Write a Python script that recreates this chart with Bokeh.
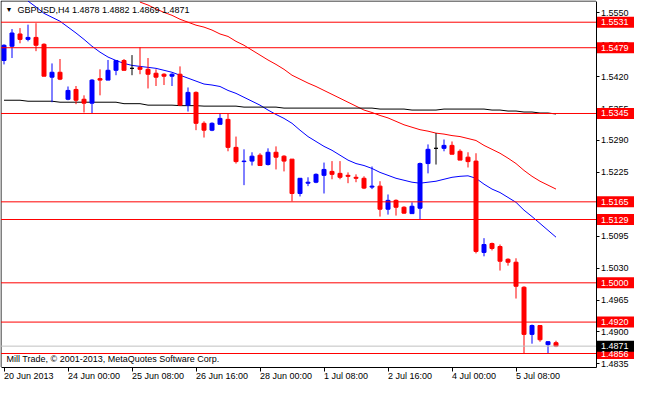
from bokeh.plotting import figure
from bokeh.models import Range1d, FixedTicker, Label, ColumnDataSource, PrintfTickFormatter
from bokeh.core.properties import value
from bokeh.embed import file_html
from bokeh.resources import INLINE

FONT = "Liberation Sans"

symbol = "GBPUSD,H4"
watermark = "Mill Trade, \u00a9 2001-2013, MetaQuotes Software Corp."
time_label_bars = [0, 8, 16, 24, 32, 40, 48, 56, 64]
time_labels = ["20 Jun 2013", "24 Jun 00:00", "25 Jun 08:00", "26 Jun 16:00", "28 Jun 00:00",
               "1 Jul 08:00", "2 Jul 16:00", "4 Jul 00:00", "5 Jul 08:00"]
price_ticks = [1.4835, 1.4900, 1.4965, 1.5030, 1.5095, 1.5160, 1.5225, 1.5290, 1.5355,
               1.5420, 1.5485, 1.5550]

opens = [1.5453, 1.5482, 1.5507, 1.5496, 1.5500, 1.5486, 1.5419, 1.5429, 1.5374, 1.5394,
         1.5374, 1.5366, 1.5416, 1.5413, 1.5433, 1.5453, 1.5437, 1.5439, 1.5435, 1.5427,
         1.5425, 1.5421, 1.5425, 1.5362, 1.5388, 1.5325, 1.5311, 1.5323, 1.5333, 1.5276,
         1.5247, 1.5248, 1.5260, 1.5241, 1.5266, 1.5258, 1.5252, 1.5182, 1.5203, 1.5205,
         1.5219, 1.5227, 1.5223, 1.5219, 1.5215, 1.5213, 1.5195, 1.5197, 1.5150, 1.5168,
         1.5154, 1.5141, 1.5152, 1.5243, 1.5274, 1.5274, 1.5280, 1.5268, 1.5256, 1.5248,
         1.5062, 1.5080, 1.5074, 1.5048, 1.5042, 1.4991, 1.4895, 1.4913, 1.4874, 1.4878]
highs = [1.5486, 1.5517, 1.5519, 1.5526, 1.5529, 1.5488, 1.5447, 1.5456, 1.5400, 1.5401,
         1.5382, 1.5415, 1.5435, 1.5454, 1.5454, 1.5456, 1.5464, 1.5480, 1.5458, 1.5435,
         1.5427, 1.5427, 1.5441, 1.5398, 1.5390, 1.5329, 1.5327, 1.5346, 1.5345, 1.5298,
         1.5272, 1.5266, 1.5264, 1.5274, 1.5278, 1.5260, 1.5252, 1.5213, 1.5215, 1.5223,
         1.5245, 1.5248, 1.5248, 1.5225, 1.5221, 1.5217, 1.5237, 1.5207, 1.5180, 1.5170,
         1.5156, 1.5164, 1.5245, 1.5282, 1.5305, 1.5292, 1.5288, 1.5272, 1.5266, 1.5264,
         1.5091, 1.5082, 1.5078, 1.5050, 1.5050, 1.4993, 1.4915, 1.4913, 1.4881, 1.4882]
lows = [1.5445, 1.5458, 1.5488, 1.5492, 1.5472, 1.5421, 1.5368, 1.5413, 1.5372, 1.5364,
        1.5347, 1.5345, 1.5382, 1.5413, 1.5423, 1.5433, 1.5423, 1.5425, 1.5396, 1.5401,
        1.5403, 1.5401, 1.5362, 1.5349, 1.5311, 1.5296, 1.5309, 1.5323, 1.5268, 1.5243,
        1.5199, 1.5239, 1.5239, 1.5239, 1.5231, 1.5227, 1.5166, 1.5176, 1.5197, 1.5203,
        1.5182, 1.5211, 1.5211, 1.5203, 1.5205, 1.5191, 1.5191, 1.5135, 1.5139, 1.5137,
        1.5141, 1.5141, 1.5129, 1.5223, 1.5241, 1.5268, 1.5262, 1.5250, 1.5235, 1.5060,
        1.5054, 1.5066, 1.5025, 1.5035, 1.4968, 1.4856, 1.4876, 1.4880, 1.4856, 1.4869]
closes = [1.5484, 1.5509, 1.5496, 1.5500, 1.5484, 1.5421, 1.5429, 1.5415, 1.5392, 1.5372,
          1.5366, 1.5413, 1.5413, 1.5433, 1.5453, 1.5433, 1.5437, 1.5435, 1.5425, 1.5419,
          1.5421, 1.5425, 1.5362, 1.5388, 1.5325, 1.5311, 1.5325, 1.5335, 1.5276, 1.5247,
          1.5248, 1.5258, 1.5239, 1.5266, 1.5256, 1.5248, 1.5182, 1.5213, 1.5205, 1.5221,
          1.5231, 1.5221, 1.5215, 1.5217, 1.5213, 1.5193, 1.5197, 1.5150, 1.5168, 1.5154,
          1.5142, 1.5156, 1.5243, 1.5272, 1.5274, 1.5280, 1.5262, 1.5250, 1.5247, 1.5064,
          1.5078, 1.5070, 1.5044, 1.5042, 1.4993, 1.4895, 1.4913, 1.4884, 1.4880, 1.4871]

# blue moving average, from bar 3
ma_fast_first = 3
ma_fast = [1.5574, 1.5562, 1.5549, 1.5541, 1.5533, 1.5521, 1.5509, 1.5496, 1.5482, 1.5470,
           1.5460, 1.5453, 1.5447, 1.5443, 1.5441, 1.5439, 1.5437, 1.5433, 1.5429, 1.5423,
           1.5417, 1.5411, 1.5405, 1.5403, 1.5400, 1.5392, 1.5386, 1.5378, 1.5370, 1.5362,
           1.5352, 1.5343, 1.5335, 1.5325, 1.5311, 1.5298, 1.5288, 1.5278, 1.5270, 1.5260,
           1.5250, 1.5243, 1.5239, 1.5233, 1.5225, 1.5219, 1.5213, 1.5209, 1.5205, 1.5203,
           1.5205, 1.5207, 1.5211, 1.5215, 1.5217, 1.5218, 1.5213, 1.5201, 1.5191, 1.5184,
           1.5174, 1.5164, 1.5148, 1.5135, 1.5121, 1.5107, 1.5093]
# red moving average, from bar 17
ma_slow_first = 17
ma_slow = [1.5572, 1.5566, 1.5558, 1.5551, 1.5545, 1.5537, 1.5531, 1.5525, 1.5521, 1.5515,
           1.5507, 1.5502, 1.5492, 1.5484, 1.5474, 1.5464, 1.5454, 1.5445, 1.5435, 1.5423,
           1.5415, 1.5407, 1.5400, 1.5392, 1.5384, 1.5376, 1.5368, 1.5360, 1.5352, 1.5347,
           1.5341, 1.5336, 1.5329, 1.5322, 1.5317, 1.5312, 1.5309, 1.5305, 1.5303, 1.5300,
           1.5298, 1.5294, 1.5290, 1.5280, 1.5272, 1.5264, 1.5254, 1.5243, 1.5229, 1.5217,
           1.5207, 1.5199, 1.5191]
# black long moving average, all bars
ma_long = [1.5372, 1.5372, 1.5372, 1.5370, 1.5370, 1.5370, 1.5370, 1.5368, 1.5368, 1.5368,
           1.5368, 1.5368, 1.5368, 1.5368, 1.5368, 1.5365, 1.5365, 1.5365, 1.5362, 1.5362,
           1.5362, 1.5362, 1.5361, 1.5361, 1.5361, 1.5360, 1.5360, 1.5360, 1.5360, 1.5360,
           1.5358, 1.5358, 1.5358, 1.5358, 1.5358, 1.5356, 1.5356, 1.5356, 1.5356, 1.5356,
           1.5356, 1.5356, 1.5356, 1.5356, 1.5356, 1.5356, 1.5356, 1.5354, 1.5354, 1.5354,
           1.5354, 1.5352, 1.5352, 1.5352, 1.5352, 1.5354, 1.5354, 1.5354, 1.5354, 1.5354,
           1.5354, 1.5352, 1.5352, 1.5350, 1.5350, 1.5348, 1.5348, 1.5346, 1.5346, 1.5344]

levels = [1.5531, 1.5479, 1.5345, 1.5165, 1.5129, 1.5000, 1.4920, 1.4856]
bid = 1.4871

# price scale bounds of the chart window
chart_top, chart_bottom = 1.55742, 1.48285

RED = "#FF0000"
BLUE = "#0000FF"

# ---- layout (pixels) ----
W, H = 634, 384
BAR_PX = 8
TOP_PX, BOT_PX = 0.5, 366.5      # chart window top/bottom border
LEFT_PX, AXIS_PX = 0.5, 595.5    # chart window left border / price scale line
x0 = -0.4375
x1 = x0 + W / BAR_PX
XL = x0 + LEFT_PX / BAR_PX
XA = x0 + AXIS_PX / BAR_PX
ppu = (BOT_PX - TOP_PX) / (chart_top - chart_bottom)
y1 = chart_top + TOP_PX / ppu
y0 = chart_bottom - (H - BOT_PX) / ppu

p = figure(width=W, height=H, output_backend="svg", toolbar_location=None,
           x_range=Range1d(x0, x1), y_range=Range1d(y0, y1),
           y_axis_location="right", min_border_left=0, min_border_top=0,
           min_border_right=0, min_border_bottom=0)
p.grid.visible = False
p.outline_line_color = None
p.background_fill_color = "white"
p.border_fill_color = "white"

# time axis (ticks only; labels drawn left-aligned below)
p.xaxis.fixed_location = chart_bottom
p.xaxis.bounds = (XL, XA)
p.xaxis.ticker = FixedTicker(ticks=time_label_bars, minor_ticks=[])
p.xaxis.major_label_overrides = {b: "" for b in time_label_bars}
p.xaxis.major_tick_out = 4
p.xaxis.major_tick_in = 0
p.xaxis.minor_tick_out = 0
p.xaxis.minor_tick_in = 0

# price axis
p.yaxis.fixed_location = XA
p.yaxis.bounds = (chart_bottom, chart_top)
p.yaxis.ticker = FixedTicker(ticks=price_ticks, minor_ticks=[])
p.yaxis.formatter = PrintfTickFormatter(format="%.4f")
p.yaxis.major_tick_out = 3
p.yaxis.major_tick_in = 0
p.yaxis.minor_tick_out = 0
p.yaxis.minor_tick_in = 0
p.yaxis.major_label_standoff = 2
for ax in (p.xaxis, p.yaxis):
    ax.axis_line_color = "black"
    ax.axis_line_width = 1
    ax.major_tick_line_color = "black"
    ax.major_label_text_font = FONT
    ax.major_label_text_font_size = "9px"
    ax.major_label_text_color = "black"

# left and top borders of the chart window
p.line(x=[XL, XL, XA], y=[chart_bottom, chart_top, chart_top], line_color="black", line_width=1)

# moving averages
p.line(x=list(range(ma_fast_first, ma_fast_first + len(ma_fast))), y=ma_fast, line_color=BLUE, line_width=1)
p.line(x=list(range(ma_slow_first, ma_slow_first + len(ma_slow))), y=ma_slow, line_color=RED, line_width=1)
p.line(x=list(range(len(ma_long))), y=ma_long, line_color="black", line_width=1)

# candles
idx = list(range(len(opens)))
colors = [BLUE if c > o else (RED if c < o else "black") for o, c in zip(opens, closes)]
src = ColumnDataSource(dict(x=idx, o=opens, h=highs, l=lows, c=closes,
                            top=[max(o, c) for o, c in zip(opens, closes)],
                            bottom=[min(o, c) for o, c in zip(opens, closes)],
                            color=colors))
p.segment(x0="x", y0="h", x1="x", y1="l", line_color="color", line_width=1, source=src)
p.vbar(x="x", width=0.5, top="top", bottom="bottom", fill_color="color", line_color="color",
       line_width=1, source=src)

# horizontal levels and bid line
n = len(levels)
p.segment(x0=[XL] * n, y0=levels, x1=[XA] * n, y1=levels, line_color=RED, line_width=1)
p.segment(x0=[XL], y0=[bid], x1=[XA], y1=[bid], line_color="#C0C0C0", line_width=1)

# price boxes on the price scale
box_prices = levels + [bid]
box_colors = [RED] * n + ["black"]
half = 5.5 / ppu
p.quad(left=[XA + 1 / BAR_PX] * (n + 1), right=[x1] * (n + 1),
       bottom=[v - half for v in box_prices], top=[v + half for v in box_prices],
       fill_color=box_colors, line_color=None, level="overlay")
p.text(x=[XA + 5 / BAR_PX] * (n + 1), y=box_prices, text=[f"{v:.4f}" for v in box_prices],
       text_color="white", text_font=value(FONT), text_font_size="9px",
       text_baseline="middle", text_align="left", level="overlay")

# time labels, left-aligned at their ticks
p.text(x=time_label_bars, y=[chart_bottom] * len(time_label_bars), text=time_labels,
       y_offset=9, text_color="black", text_font=value(FONT), text_font_size="9px",
       text_baseline="middle", text_align="left")

# header and watermark
p.add_layout(Label(x=5, y=H - 9, x_units="screen", y_units="screen", text="\u25bc",
                   text_font=FONT, text_font_size="7px", text_color="black",
                   text_baseline="middle", text_align="left"))
header = f"{symbol}  {opens[-1]:.4f} {highs[-1]:.4f} {lows[-1]:.4f} {closes[-1]:.4f}"
p.add_layout(Label(x=17, y=H - 9, x_units="screen", y_units="screen", text=header,
                   text_font=FONT, text_font_size="9px", text_color="black",
                   text_baseline="middle", text_align="left"))
p.add_layout(Label(x=6, y=H - BOT_PX + 8, x_units="screen", y_units="screen", text=watermark,
                   text_font=FONT, text_font_size="9px", text_color="black",
                   text_baseline="middle", text_align="left"))

open("out.html", "w").write(file_html(p, INLINE))
